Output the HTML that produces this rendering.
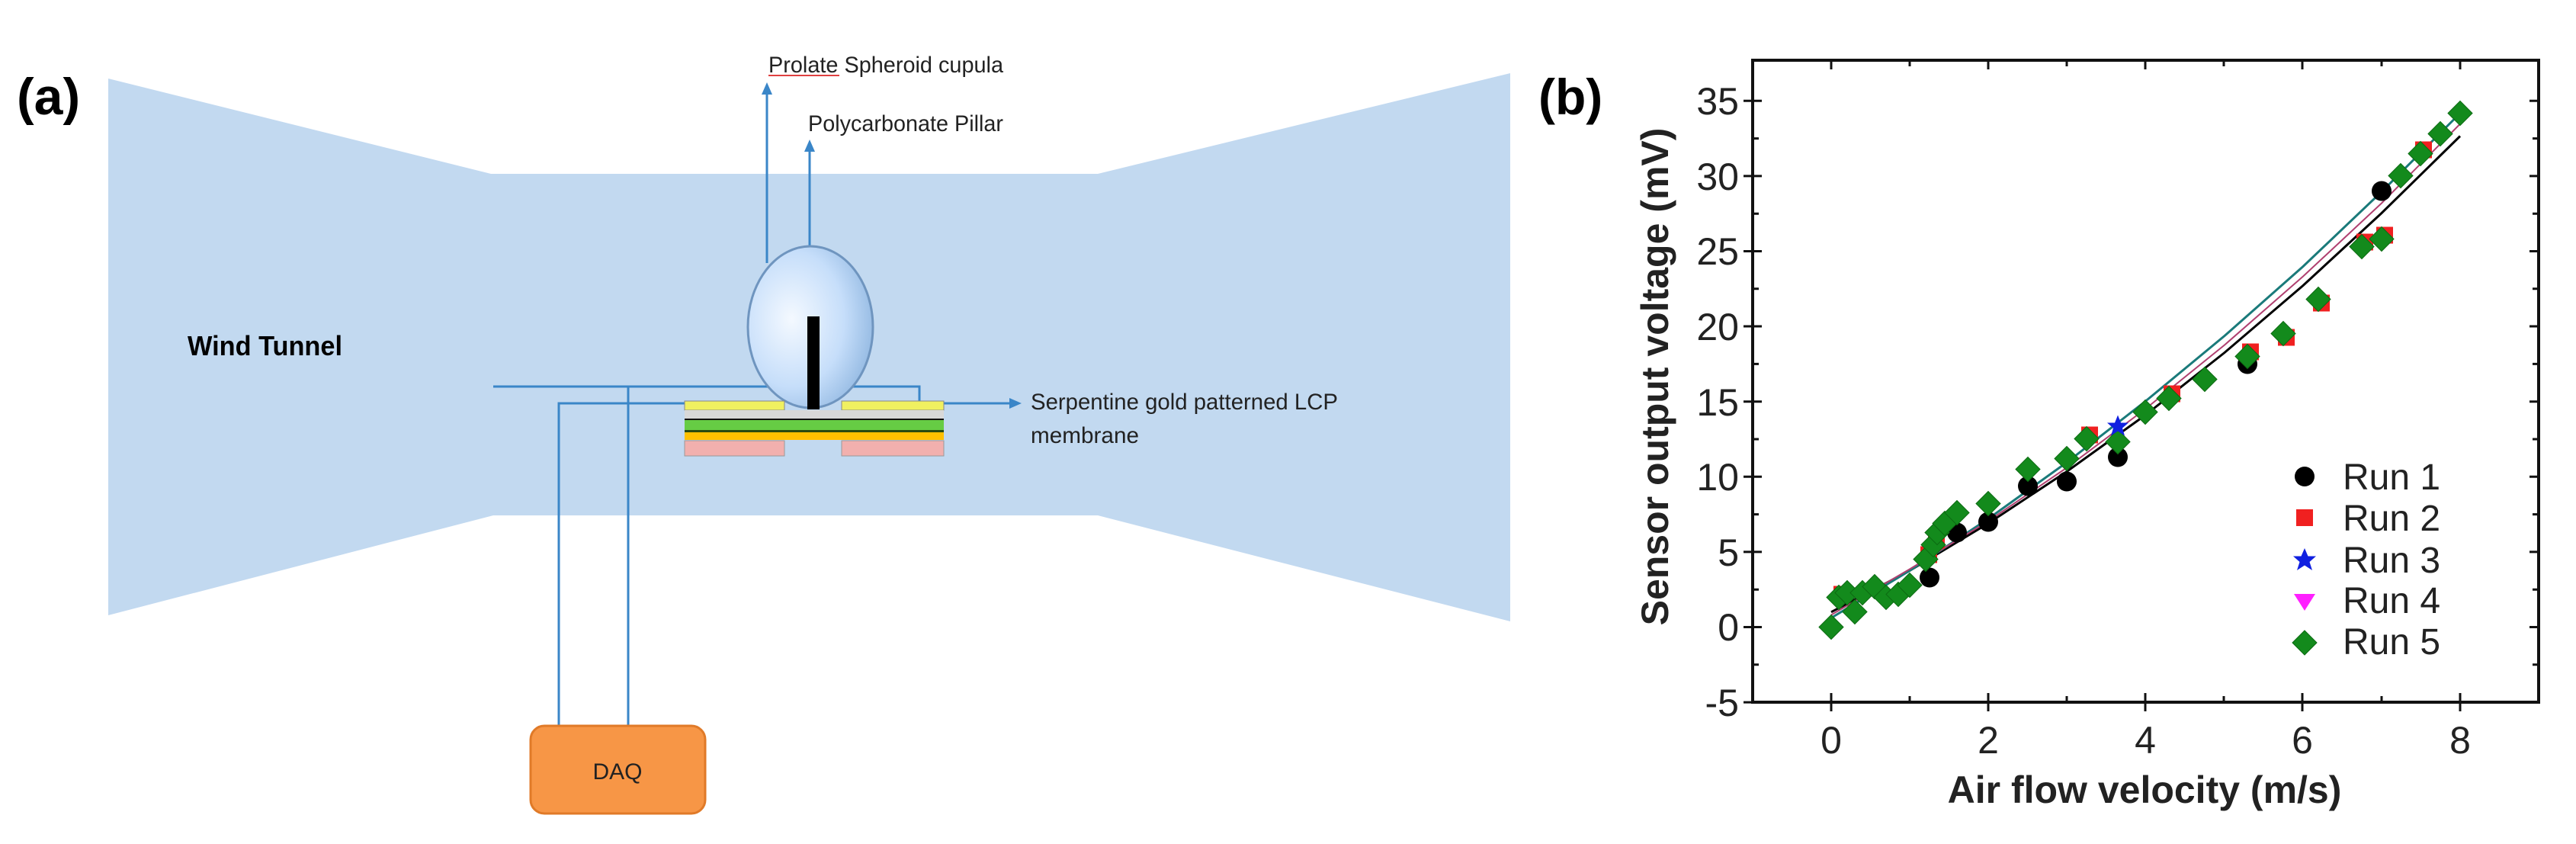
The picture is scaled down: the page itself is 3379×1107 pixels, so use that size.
<!DOCTYPE html>
<html><head><meta charset="utf-8"><style>html,body{margin:0;padding:0;background:#fff}svg{display:block}</style></head>
<body>
<svg width="3379" height="1107" viewBox="0 0 3379 1107" xmlns="http://www.w3.org/2000/svg">
<defs>
<radialGradient id="eg" cx="0.35" cy="0.45" r="0.7">
<stop offset="0" stop-color="#f4f9ff"/><stop offset="0.6" stop-color="#c6defa"/><stop offset="1" stop-color="#8fb6e0"/>
</radialGradient>
<path id="dm" d="M0,-16 L16,0 L0,16 L-16,0Z" fill="#138a1c" stroke="#0c6b12" stroke-width="1"/>
<rect id="sq" x="-11" y="-11" width="22" height="22" fill="#f02020"/>
<circle id="ci" r="13" fill="#000"/>
</defs>
<!-- (a) -->
<text x="22" y="150" font-family="Liberation Sans Narrow, Liberation Sans, sans-serif" font-weight="bold" font-size="68">(a)</text>
<polygon points="142,103 644,228 1440,228 1981,96 1981,815 1440,676 647,676 142,807" fill="#c2d9f0"/>
<text x="246" y="466" font-family="Liberation Sans Narrow, Liberation Sans, sans-serif" font-weight="bold" font-size="36" textLength="203" lengthAdjust="spacingAndGlyphs">Wind Tunnel</text>
<!-- labels -->
<text x="1008" y="95" font-family="Liberation Sans Narrow, Liberation Sans, sans-serif" font-size="30" fill="#222" textLength="308" lengthAdjust="spacingAndGlyphs">Prolate Spheroid cupula</text>
<line x1="1008" y1="99" x2="1101" y2="99" stroke="#e04040" stroke-width="2"/>
<text x="1060" y="172" font-family="Liberation Sans Narrow, Liberation Sans, sans-serif" font-size="30" fill="#222" textLength="256" lengthAdjust="spacingAndGlyphs">Polycarbonate Pillar</text>
<g stroke="#3a86c8" stroke-width="3" fill="none">
<line x1="1006" y1="120" x2="1006" y2="345"/>
<line x1="1062" y1="195" x2="1062" y2="415"/>
<polyline points="647,507 1206,507 1206,527"/>
<polyline points="824,951 824,507"/>
<polyline points="733,951 733,529 900,529"/>
<line x1="1238" y1="529" x2="1328" y2="529"/>
</g>
<g fill="#3a86c8">
<polygon points="1006,108 999,124 1013,124"/>
<polygon points="1062,183 1055,199 1069,199"/>
<polygon points="1340,529 1324,522 1324,536"/>
</g>
<!-- cupula -->
<ellipse cx="1063" cy="429" rx="82" ry="106" fill="url(#eg)" stroke="#6f95bf" stroke-width="3"/>
<!-- layers -->
<rect x="898" y="526" width="131" height="12" fill="#f0f060" stroke="#888" stroke-width="1"/>
<rect x="1104" y="526" width="134" height="12" fill="#f0f060" stroke="#888" stroke-width="1"/>
<rect x="898" y="538" width="340" height="11" fill="#d8d8d8"/>
<rect x="898" y="549" width="340" height="2" fill="#111"/>
<rect x="898" y="551" width="340" height="13" fill="#66cc44"/>
<rect x="898" y="564" width="340" height="3" fill="#2a4a10"/>
<rect x="898" y="567" width="340" height="10" fill="#ffc000"/>
<rect x="898" y="578" width="131" height="20" fill="#f2b0ae" stroke="#999" stroke-width="1"/>
<rect x="1104" y="578" width="134" height="20" fill="#f2b0ae" stroke="#999" stroke-width="1"/>
<rect x="1059" y="415" width="16" height="122" fill="#000"/>
<text x="1352" y="537" font-family="Liberation Sans Narrow, Liberation Sans, sans-serif" font-size="30" fill="#222" textLength="403" lengthAdjust="spacingAndGlyphs">Serpentine gold patterned LCP</text>
<text x="1352" y="581" font-family="Liberation Sans Narrow, Liberation Sans, sans-serif" font-size="30" fill="#222" textLength="142" lengthAdjust="spacingAndGlyphs">membrane</text>
<!-- DAQ -->
<rect x="696" y="952" width="229" height="115" rx="18" fill="#f79646" stroke="#e07a28" stroke-width="3"/>
<text x="810" y="1022" text-anchor="middle" font-family="Liberation Sans Narrow, Liberation Sans, sans-serif" font-size="30" fill="#222">DAQ</text>

<!-- (b) -->
<text x="2018" y="150" font-family="Liberation Sans, sans-serif" font-weight="bold" font-size="66">(b)</text>
<g stroke="#111" stroke-width="4" fill="none">
<rect x="2299" y="79" width="1031" height="842"/>
</g>
<g stroke="#111" stroke-width="3">
<!-- y major ticks left/right -->
<path d="M2287,132.3h24M2287,230.9h24M2287,329.5h24M2287,428h24M2287,526.7h24M2287,625.3h24M2287,723.9h24M2287,822.5h24M2287,921.1h12
M3318,132.3h12M3318,230.9h12M3318,329.5h12M3318,428h12M3318,526.7h12M3318,625.3h12M3318,723.9h12M3318,822.5h12
M2299,181.6h8M2299,280.2h8M2299,378.8h8M2299,477.4h8M2299,576h8M2299,674.6h8M2299,773.2h8M2299,871.8h8
M3322,181.6h8M3322,280.2h8M3322,378.8h8M3322,477.4h8M3322,576h8M3322,674.6h8M3322,773.2h8M3322,871.8h8
M2402,909v24M2608,909v24M2814,909v24M3020,909v24M3227,909v24
M2505,913v8M2711,913v8M2917,913v8M3124,913v8
M2402,79v12M2608,79v12M2814,79v12M3020,79v12M3227,79v12
M2505,79v8M2711,79v8M2917,79v8M3124,79v8"/>
</g>
<g font-family="Liberation Sans, sans-serif" font-size="50" fill="#222" text-anchor="end">
<text x="2281" y="150">35</text><text x="2281" y="249">30</text><text x="2281" y="347">25</text>
<text x="2281" y="446">20</text><text x="2281" y="545">15</text><text x="2281" y="643">10</text>
<text x="2281" y="742">5</text><text x="2281" y="840">0</text><text x="2281" y="939">-5</text>
</g>
<g font-family="Liberation Sans, sans-serif" font-size="50" fill="#222" text-anchor="middle">
<text x="2402" y="988">0</text><text x="2608" y="988">2</text><text x="2814" y="988">4</text>
<text x="3020" y="988">6</text><text x="3227" y="988">8</text>
</g>
<text x="2813" y="1053" text-anchor="middle" font-family="Liberation Sans, sans-serif" font-weight="bold" font-size="50" fill="#222">Air flow velocity (m/s)</text>
<text transform="translate(2188,494) rotate(-90)" text-anchor="middle" font-family="Liberation Sans, sans-serif" font-weight="bold" font-size="50" fill="#222">Sensor output voltage (mV)</text>

<g transform="translate(2402,822.5)">
<polyline fill="none" stroke="#000" stroke-width="3" points="0,-19.7 103,-74 206,-136 309,-204 412,-278 516,-360 619,-448 722,-543 825,-644"/>
<polyline fill="none" stroke="#1a7a7a" stroke-width="3" points="0,-12 103,-74 206,-142 309,-216 412,-296 516,-382 619,-473 722,-571 825,-674"/>
<polyline fill="none" stroke="#b04070" stroke-width="2" points="0,-16 103,-76 206,-139 309,-209 412,-286 516,-370 619,-460 722,-556 825,-660"/>
<g>
<use href="#sq" x="14" y="-43"/><use href="#sq" x="128" y="-95"/><use href="#sq" x="138" y="-114"/>
<use href="#sq" x="447" y="-306"/><use href="#sq" x="550" y="-361"/><use href="#sq" x="643" y="-425"/>
<use href="#sq" x="726" y="-514"/><use href="#sq" x="777" y="-626"/><use href="#sq" x="339" y="-252"/>
<use href="#sq" x="700" y="-505"/><use href="#sq" x="597" y="-380"/>
</g>
<g>
<use href="#ci" x="129" y="-65"/><use href="#ci" x="165" y="-124"/><use href="#ci" x="206" y="-138"/>
<use href="#ci" x="258" y="-185"/><use href="#ci" x="309" y="-191"/><use href="#ci" x="376" y="-223"/>
<use href="#ci" x="546" y="-345"/><use href="#ci" x="722" y="-572"/>
</g>
<g>
<use href="#dm" x="0" y="0"/><use href="#dm" x="10" y="-39"/><use href="#dm" x="21" y="-45"/>
<use href="#dm" x="31" y="-20"/><use href="#dm" x="41" y="-45"/><use href="#dm" x="57" y="-53"/>
<use href="#dm" x="72" y="-39"/><use href="#dm" x="88" y="-43"/><use href="#dm" x="103" y="-55"/>
<use href="#dm" x="124" y="-89"/><use href="#dm" x="134" y="-108"/><use href="#dm" x="139" y="-124"/>
<use href="#dm" x="149" y="-136"/><use href="#dm" x="165" y="-150"/><use href="#dm" x="206" y="-162"/>
<use href="#dm" x="258" y="-207"/><use href="#dm" x="309" y="-221"/><use href="#dm" x="335" y="-247"/>
<use href="#dm" x="376" y="-243"/><use href="#dm" x="412" y="-282"/><use href="#dm" x="443" y="-300"/>
<use href="#dm" x="490" y="-325"/><use href="#dm" x="546" y="-355"/><use href="#dm" x="593" y="-385"/>
<use href="#dm" x="639" y="-430"/><use href="#dm" x="696" y="-499"/><use href="#dm" x="722" y="-509"/>
<use href="#dm" x="747" y="-592"/><use href="#dm" x="773" y="-621"/><use href="#dm" x="799" y="-647"/>
<use href="#dm" x="825" y="-674"/>
</g>
<polygon transform="translate(376,-264)" points="0,-14 4,-4 14,-4 6,3 9,13 0,7 -9,13 -6,3 -14,-4 -4,-4" fill="#1020e0"/>
</g>
<!-- legend -->
<use href="#ci" x="3023" y="625"/>
<use href="#sq" x="3023" y="679"/>
<polygon transform="translate(3023,734)" points="0,-15 4.5,-4.5 15,-4.5 6.5,3 10,14 0,7.5 -10,14 -6.5,3 -15,-4.5 -4.5,-4.5" fill="#1020e0"/>
<polygon points="3009,779 3037,779 3023,801" fill="#ff20ff"/>
<use href="#dm" x="3023" y="843"/>
<g font-family="Liberation Sans, sans-serif" font-size="48" fill="#222">
<text x="3073" y="642">Run 1</text><text x="3073" y="696">Run 2</text><text x="3073" y="751">Run 3</text>
<text x="3073" y="804">Run 4</text><text x="3073" y="858">Run 5</text>
</g>
</svg>
</body></html>
